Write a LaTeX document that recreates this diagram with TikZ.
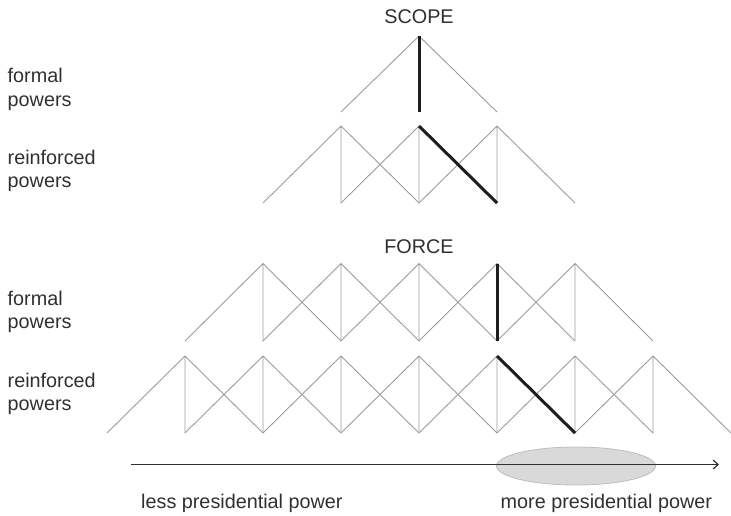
\documentclass[tikz,border=0pt]{standalone}
\usepackage{fontspec}
\setmainfont{Liberation Sans}
\usetikzlibrary{arrows.meta,shapes.geometric}
\definecolor{lgray}{HTML}{9C9C9C}
\definecolor{dk}{HTML}{1E1E1E}
\definecolor{txt}{HTML}{303030}
\definecolor{ellfill}{HTML}{D9D9D9}
\definecolor{elldraw}{HTML}{BDBDBD}
\begin{document}
\begin{tikzpicture}[x=1pt,y=-1pt,
  thinline/.style={draw=lgray, line width=0.9pt, line join=round},
  thickline/.style={draw=dk, line width=3pt},
  lbl/.style={font=\fontsize{19.8}{23.5}\selectfont, text=txt, inner sep=0pt, align=left, anchor=base west},
  ttl/.style={font=\fontsize{19.8}{23.5}\selectfont, text=txt, inner sep=0pt, anchor=base},
  axis/.style={draw=txt, line width=1.2pt, -{Straight Barb[length=5pt,width=9pt]}},
  hilite/.style={ellipse, fill=ellfill, draw=elldraw, line width=0.8pt, minimum width=159pt, minimum height=38pt, inner sep=0pt}]
\useasboundingbox (0,0) rectangle (731,515);

% ---------- SCOPE, formal powers ----------
\coordinate (sft4) at (419,36);
\foreach \i in {3,4,5} \coordinate (sfb\i) at ({419+78*(\i-4)},112);
\foreach \i in {3,4,5} \draw[thinline] (sft4) -- (sfb\i);

% ---------- SCOPE, reinforced powers ----------
\foreach \i in {3,4,5} \coordinate (srt\i) at ({419+78*(\i-4)},126);
\foreach \i in {2,...,6} \coordinate (srb\i) at ({419+78*(\i-4)},203);
\foreach \i in {3,4,5} {
  \pgfmathtruncatemacro\l{\i-1}\pgfmathtruncatemacro\r{\i+1}
  \draw[thinline] (srb\l) -- (srt\i) -- (srb\r) (srt\i) -- (srb\i);
}

% ---------- FORCE, formal powers ----------
\foreach \i in {2,...,6} \coordinate (fft\i) at ({419+78*(\i-4)},263.5);
\foreach \i in {1,...,7} \coordinate (ffb\i) at ({419+78*(\i-4)},341);
\foreach \i in {2,...,6} {
  \pgfmathtruncatemacro\l{\i-1}\pgfmathtruncatemacro\r{\i+1}
  \draw[thinline] (ffb\l) -- (fft\i) -- (ffb\r) (fft\i) -- (ffb\i);
}

% ---------- FORCE, reinforced powers ----------
\foreach \i in {1,...,7} \coordinate (frt\i) at ({419+78*(\i-4)},356);
\foreach \i in {0,...,8} \coordinate (frb\i) at ({419+78*(\i-4)},433);
\foreach \i in {1,...,7} {
  \pgfmathtruncatemacro\l{\i-1}\pgfmathtruncatemacro\r{\i+1}
  \draw[thinline] (frb\l) -- (frt\i) -- (frb\r) (frt\i) -- (frb\i);
}

% ---------- highlighted paths ----------
\draw[thickline] (sft4) -- (sfb4);
\draw[thickline] (srt4) -- (srb5);
\draw[thickline] (fft5) -- (ffb5);
\draw[thickline] (frt5) -- (frb6);

% ---------- titles and labels ----------
\node[ttl] (scope) at (419,23.3) {SCOPE};
\node[ttl] (force) at (419,253) {FORCE};
\node[lbl] (sformal) at (7.5,106) {formal\\powers};
\node[lbl] (sreinf) at (7.5,187.7) {reinforced\\powers};
\node[lbl] (fformal) at (7.5,328.5) {formal\\powers};
\node[lbl] (freinf) at (7.5,410.5) {reinforced\\powers};

% ---------- axis ----------
\node[hilite] (hl) at (576,466) {};
\coordinate (axstart) at (131,464.5);
\coordinate (axend) at (719,464.5);
\draw[axis] (axstart) -- (axend);
\node[lbl] (less) at (141,508.5) {less presidential power};
\node[lbl] (more) at (500.5,508.5) {more presidential power};
\end{tikzpicture}
\end{document}
